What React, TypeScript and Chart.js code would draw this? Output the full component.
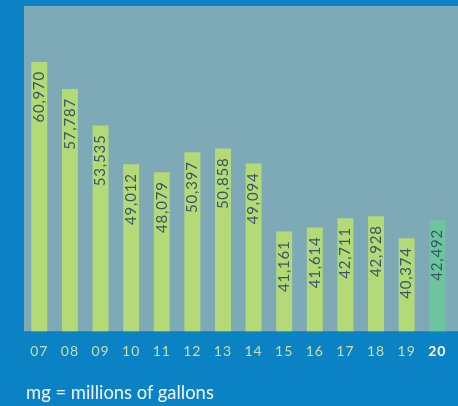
import React, { useEffect, useRef } from "react";
import { Chart, registerables } from "chart.js";

Chart.register(...registerables);

const years = ["07", "08", "09", "10", "11", "12", "13", "14", "15", "16", "17", "18", "19", "20", "21"];
const usage: (number | null)[] = [60970, 57787, 53535, 49012, 48079, 50397, 50858, 49094, 41161, 41614, 42711, 42928, 40374, 42492, null];
const highlightYear = "20";
const footnote = "mg = millions of gallons";

const BLUE = "#0a82c3";
const PLOT_BG = "#7eaab7";
const BAR = "#b4da78";
const BAR_HI = "#6cc59f";
const LABEL = "#3a5568";
const TICK = "#bfe0b0";
const FONT = "Lato, 'Open Sans', sans-serif";

export default function App() {
  const ref = useRef<HTMLCanvasElement | null>(null);

  useEffect(() => {
    document.body.style.margin = "0";
    const canvas = ref.current;
    if (!canvas) return;

    const plotBg = {
      id: "plotBg",
      beforeDraw(chart: any) {
        const { ctx, chartArea } = chart;
        ctx.save();
        ctx.fillStyle = PLOT_BG;
        ctx.fillRect(chartArea.left, chartArea.top, chartArea.right - chartArea.left, chartArea.bottom - chartArea.top);
        ctx.restore();
      },
    };

    const spacing = {
      id: "spacing",
      beforeDraw(chart: any) {
        (chart.ctx as any).letterSpacing = "1px";
      },
    };

    const valueLabels = {
      id: "valueLabels",
      afterDatasetsDraw(chart: any) {
        const { ctx } = chart;
        const meta = chart.getDatasetMeta(0);
        ctx.save();
        ctx.font = `15px ${FONT}`;
        (ctx as any).letterSpacing = "0.8px";
        ctx.fillStyle = LABEL;
        ctx.textAlign = "right";
        ctx.textBaseline = "middle";
        meta.data.forEach((bar: any, i: number) => {
          const v = usage[i];
          if (v == null) return;
          ctx.save();
          ctx.translate(bar.x, bar.y + 9);
          ctx.rotate(-Math.PI / 2);
          ctx.fillText(v.toLocaleString("en-US"), 0, 0);
          ctx.restore();
        });
        ctx.restore();
      },
    };

    const chart = new Chart(canvas, {
      type: "bar",
      data: {
        labels: years,
        datasets: [
          {
            data: usage,
            backgroundColor: years.map((y) => (y === highlightYear ? BAR_HI : BAR)),
            borderWidth: 0,
            barPercentage: 0.52,
            categoryPercentage: 1,
          },
        ],
      },
      options: {
        animation: false,
        responsive: true,
        maintainAspectRatio: false,
        layout: { padding: { left: 24, top: 6, right: 0, bottom: 34 } },
        plugins: { legend: { display: false }, tooltip: { enabled: false }, title: { display: false } },
        scales: {
          x: {
            grid: { display: false, drawTicks: false },
            border: { display: false },
            ticks: {
              padding: 12,
              maxRotation: 0,
              autoSkip: false,
              color: (c: any) => (years[c.index] === highlightYear ? "#ffffff" : TICK),
              font: (c: any) => ({
                family: FONT,
                size: 14,
                weight: years[c.index] === highlightYear ? "bold" : "normal",
              }),
            },
          },
          y: {
            display: false,
            min: 29500,
            max: 67500,
          },
        },
      },
      plugins: [plotBg, spacing, valueLabels],
    });
    return () => chart.destroy();
  }, []);

  return (
    <div style={{ position: "absolute", left: 0, top: 0, width: 458, height: 406, overflow: "hidden", background: BLUE }}>
      <div style={{ position: "absolute", left: 0, top: 0, width: 488, height: 406 }}>
        <canvas ref={ref} style={{ display: "block", width: 488, height: 406 }} />
      </div>
      <div
        style={{
          position: "absolute",
          left: 26,
          top: 381,
          color: "#f2f6fa",
          fontFamily: FONT,
          fontSize: 18.4,
          lineHeight: "22px",
          whiteSpace: "nowrap",
        }}
      >
        {footnote}
      </div>
    </div>
  );
}
